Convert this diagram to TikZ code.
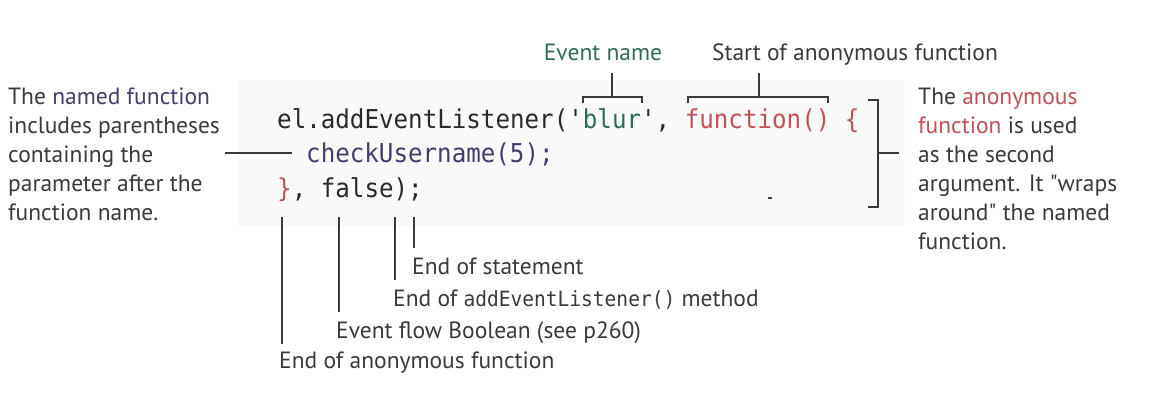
\documentclass[tikz,border=0pt]{standalone}
\usepackage{fontspec}
\setmainfont{PT Sans}
\newfontfamily\codefont[FakeStretch=0.93]{DejaVu Sans Mono}
\definecolor{txt}{HTML}{3A3A3A}
\definecolor{codeblack}{HTML}{2A2A2A}
\definecolor{evgreen}{HTML}{2F6B5A}
\definecolor{anonred}{HTML}{BF5257}
\definecolor{namedpurple}{HTML}{463D6E}
\definecolor{codebg}{HTML}{FAFAFA}
\tikzset{
  lbl/.style={anchor=base west, inner sep=0pt, text=txt, font=\fontsize{23.5}{29}\selectfont},
  code/.style={anchor=base west, inner sep=0pt, text=codeblack, font=\codefont\fontsize{26}{34}\selectfont},
  conn/.style={draw=txt, line width=1.2pt},
}
\begin{document}
\begin{tikzpicture}[x=1pt,y=-1pt]
\useasboundingbox (0,0) rectangle (1157,414);
\fill[codebg] (238,80) rectangle (905,226);
% left text
\node[lbl] (L1) at (8,105) {The \textcolor{namedpurple}{named function}};
\node[lbl] (L2) at (8,134) {includes parentheses};
\node[lbl] (L3) at (8,163) {containing the};
\node[lbl] (L4) at (8,192) {parameter after the};
\node[lbl] (L5) at (8,221) {function name.};
% right text
\node[lbl] (R1) at (918,105) {The \textcolor{anonred}{anonymous}};
\node[lbl] (R2) at (918,134) {\textcolor{anonred}{function} is used};
\node[lbl] (R3) at (918,163) {as the second};
\node[lbl] (R4) at (918,192) {argument. It \textquotedbl wraps};
\node[lbl] (R5) at (918,221) {around\textquotedbl{} the named};
\node[lbl] (R6) at (918,250) {function.};
% top labels
\node[lbl, anchor=base, text=evgreen] (EN) at (603,61) {Event name};
\node[lbl, anchor=base] (SA) at (855,61) {Start of anonymous function};
% code
\node[code] (C1) at (277,129) {el.addEventListener('\textcolor{evgreen}{blur}', \textcolor{anonred}{function() \{}};
\node[code, text=namedpurple] (C2) at (306,163) {checkUsername(5);};
\node[code] (C3) at (277,198) {\textcolor{anonred}{\}}, false);};
% bracket over blur
\coordinate (b1) at (612,73);
\coordinate (b2) at (612,97);
\draw[conn] (b1) -- (b2);
\draw[conn] (583,103) -- (583,97) -- (642,97) -- (642,103);
% bracket over function()
\coordinate (f1) at (759,73);
\coordinate (f2) at (759,97);
\draw[conn] (f1) -- (f2);
\draw[conn] (688,103) -- (688,97) -- (828,97) -- (828,103);
% right bracket
\coordinate (rb) at (878,153);
\coordinate (rt) at (899,153);
\draw[conn] (868,100) -- (878,100) -- (878,207) -- (868,207);
\draw[conn] (rb) -- (rt);
% left connector
\coordinate (lc1) at (225,153);
\coordinate (lc2) at (292,153);
\draw[conn] (lc1) -- (lc2);
% stray mark
\draw[txt, line width=1.2pt] (768,198) -- (772,198);
% bottom lines
\coordinate (v1t) at (282,217); \coordinate (v1b) at (282,344);
\coordinate (v2t) at (339,217); \coordinate (v2b) at (339,312);
\coordinate (v3t) at (395,217); \coordinate (v3b) at (395,280);
\coordinate (v4t) at (414,217); \coordinate (v4b) at (414,248);
\draw[conn] (v1t) -- (v1b);
\draw[conn] (v2t) -- (v2b);
\draw[conn] (v3t) -- (v3b);
\draw[conn] (v4t) -- (v4b);
\node[lbl] (B1) at (412,275) {End of statement};
\node[lbl] (B2) at (393,306) {End of {\codefont\fontsize{21}{29}\selectfont addEventListener()} method};
\node[lbl] (B3) at (336,338) {Event flow Boolean (see p260)};
\node[lbl] (B4) at (279,368) {End of anonymous function};
\end{tikzpicture}
\end{document}
